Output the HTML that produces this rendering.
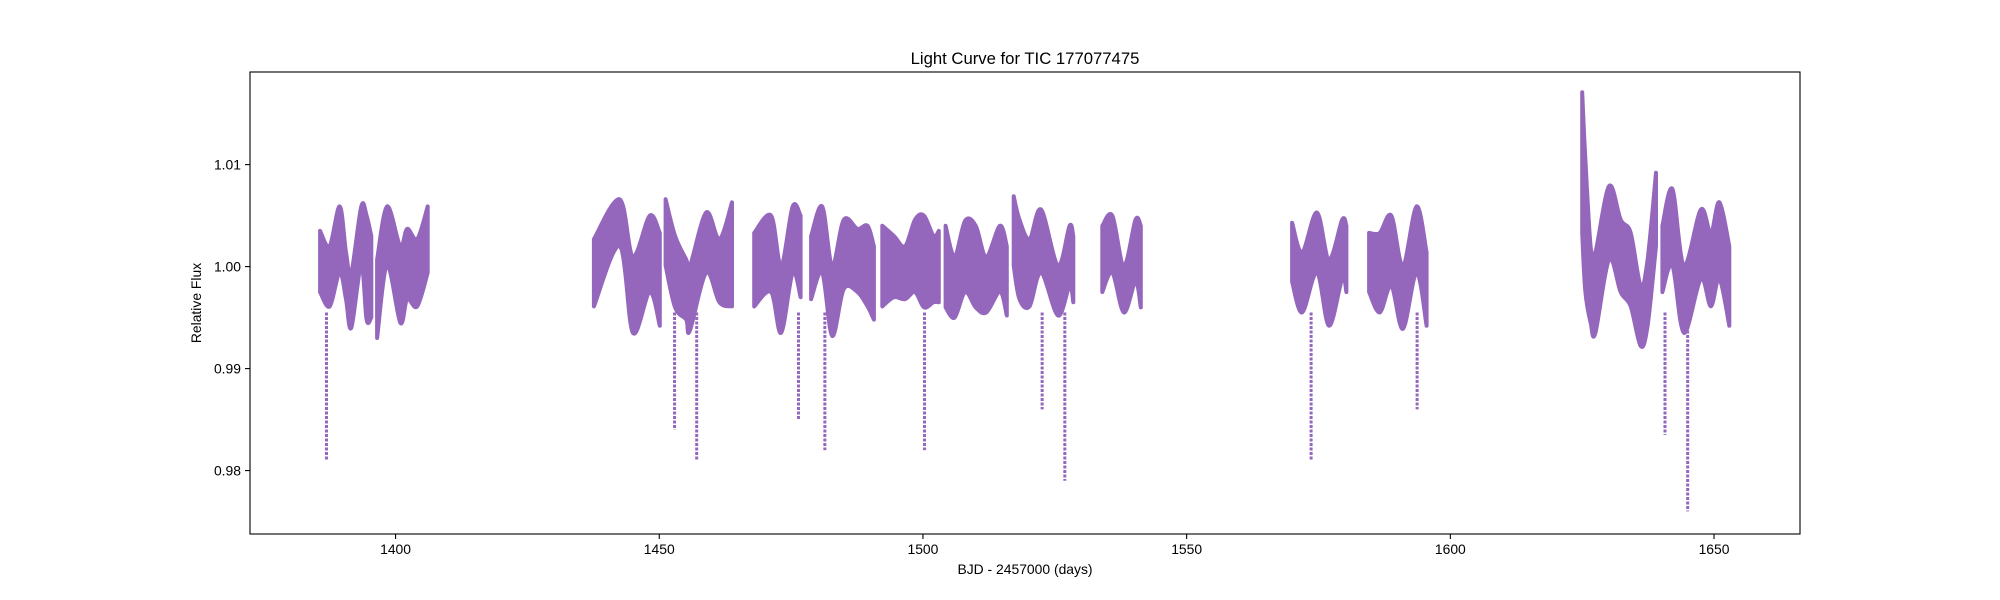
<!DOCTYPE html>
<html><head><meta charset="utf-8">
<style>
html,body{margin:0;padding:0;background:#fff;}
svg{display:block;font-family:"Liberation Sans","DejaVu Sans",sans-serif;}
</style></head>
<body>
<svg id="chart" width="2000" height="600" viewBox="0 0 2000 600" xmlns="http://www.w3.org/2000/svg">
<rect x="0" y="0" width="2000" height="600" fill="#fff"/>
<text x="1025" y="64" font-size="16.7" text-anchor="middle" fill="#000">Light Curve for TIC 177077475</text>
<g id="series"></g>
<g id="axes"></g>
<rect x="250" y="72" width="1550" height="462" fill="none" stroke="#000" stroke-width="1.1"/>
<text x="1025" y="574" font-size="13.9" text-anchor="middle" fill="#000">BJD - 2457000 (days)</text>
<text x="0" y="0" font-size="13.9" text-anchor="middle" fill="#000" transform="translate(201,303) rotate(-90)">Relative Flux</text>
</svg>
<script>
const segmentIds = [1,1,1,1,1,1,1,1, 2,2,2,2,2,2, 3,3,3,3,3, 4,4,4,4,4,4,4, 5,5,5,5,5, 6,6,6,6,6,6,6, 7,7,7,7,7,7,7, 8,8,8,8,8,8,8, 9,9,9,9,9,9,9, 10,10,10,10,10, 11,11,11,11,11,11, 12,12,12,12,12,12, 13,13,13,13,13,13,13,13,13,13, 14,14,14,14,14,14,14];
const times = [1385.7,1387.5,1389.4,1390.6,1391.6,1393.5,1394.5,1395.4, 1396.5,1398.4,1400.9,1402.2,1404.1,1406.1, 1437.6,1442.5,1445,1448.2,1450.1, 1451.2,1453,1455.1,1455.8,1458.9,1461.4,1463.8, 1468,1471.2,1473.1,1475.3,1476.8, 1478.8,1480.9,1482.8,1485,1487.6,1489.5,1490.7, 1492.3,1494.5,1496.6,1498.5,1500.2,1502,1503, 1504.3,1506,1508,1510,1512,1514.6,1515.9, 1517.2,1518.3,1520.2,1522.4,1525.6,1527.8,1528.5, 1534,1535.9,1538.1,1540.3,1541.3, 1570,1571.9,1574.7,1577,1579.5,1580.3, 1584.6,1586.6,1588.8,1591,1593.6,1595.5, 1625,1625.6,1626.6,1627.5,1630.1,1632.3,1634.2,1636.1,1637.4,1639, 1640.2,1642.1,1644.3,1647.5,1649.4,1651,1652.9];
const fluxHigh = [1.0035,1.0020,1.0059,1.0014,0.9994,1.0059,1.0050,1.0030, 1.0007,1.0059,1.0020,1.0037,1.0027,1.0059, 1.0027,1.0066,1.0010,1.0050,1.0033, 1.0066,1.0030,1.0007,1.0000,1.0053,1.0027,1.0063, 1.0033,1.0050,1.0001,1.0059,1.0050, 1.0030,1.0059,1.0001,1.0046,1.0037,1.0040,1.0020, 1.0040,1.0030,1.0020,1.0046,1.0050,1.0030,1.0035, 1.0040,1.0010,1.0045,1.0040,1.0010,1.0040,1.0020, 1.0069,1.0046,1.0027,1.0056,1.0001,1.0040,1.0030, 1.0040,1.0050,1.0001,1.0046,1.0040, 1.0043,1.0014,1.0053,1.0007,1.0046,1.0040, 1.0033,1.0033,1.0050,1.0001,1.0059,1.0014, 1.0171,1.0105,1.0020,1.0014,1.0079,1.0046,1.0033,0.9981,1.0007,1.0092, 1.0040,1.0076,1.0001,1.0056,1.0033,1.0063,1.0020];
const fluxLow = [0.9975,0.9961,0.9994,0.9968,0.9940,1.0001,0.9948,0.9950, 0.9930,1.0001,0.9945,0.9968,0.9961,0.9994, 0.9961,1.0020,0.9935,0.9975,0.9942, 1.0001,0.9960,0.9948,0.9937,0.9994,0.9965,0.9961, 0.9961,0.9975,0.9935,0.9994,0.9970, 0.9968,0.9994,0.9932,0.9978,0.9975,0.9961,0.9948, 0.9961,0.9970,0.9968,0.9975,0.9960,0.9965,0.9965, 0.9960,0.9950,0.9975,0.9960,0.9955,0.9975,0.9952, 1.0001,0.9968,0.9961,0.9994,0.9952,0.9981,0.9965, 0.9975,0.9994,0.9955,0.9985,0.9960, 0.9985,0.9955,0.9994,0.9942,0.9988,0.9975, 0.9975,0.9955,0.9981,0.9939,0.9994,0.9942, 1.0033,0.9975,0.9945,0.9935,1.0007,0.9975,0.9961,0.9922,0.9942,1.0020, 0.9975,1.0001,0.9935,0.9988,0.9961,0.9988,0.9942];
const dipTimes = [1386.9,1452.9,1457.1,1476.4,1481.4,1500.3,1522.6,1526.9,1573.6,1593.7,1640.7,1645.0];
const dipMins = [0.981,0.984,0.981,0.985,0.982,0.982,0.986,0.979,0.981,0.986,0.9835,0.976];
const xTicks = [1400,1450,1500,1550,1600,1650];
const yTicks = [0.98,0.99,1.00,1.01];
const yTickLabels = ["0.98","0.99","1.00","1.01"];

const X0=250,X1=1800,Y0=72,Y1=534;
const TMIN=1372.4,TMAX=1666.3,FMIN=0.97378,FMAX=1.01908;
function xs(t){return X0+(t-TMIN)/(TMAX-TMIN)*(X1-X0);}
function ys(f){return Y1-(f-FMIN)/(FMAX-FMIN)*(Y1-Y0);}
const NS="http://www.w3.org/2000/svg";
const series=document.getElementById('series');
const axes=document.getElementById('axes');
const COLOR="#9467bd";

function smooth(pts){
  // Catmull-Rom to cubic bezier, returns path commands after initial point
  let d="";
  for(let i=0;i<pts.length-1;i++){
    const p0=pts[Math.max(0,i-1)],p1=pts[i],p2=pts[i+1],p3=pts[Math.min(pts.length-1,i+2)];
    const c1=[p1[0]+(p2[0]-p0[0])/6,p1[1]+(p2[1]-p0[1])/6];
    const c2=[p2[0]-(p3[0]-p1[0])/6,p2[1]-(p3[1]-p1[1])/6];
    d+=" C"+c1[0].toFixed(1)+","+c1[1].toFixed(1)+" "+c2[0].toFixed(1)+","+c2[1].toFixed(1)+" "+p2[0].toFixed(1)+","+p2[1].toFixed(1);
  }
  return d;
}

const segs=[...new Set(segmentIds)];
segs.forEach(id=>{
  const idx=[];segmentIds.forEach((s,i)=>{if(s===id)idx.push(i);});
  const up=idx.map(i=>[xs(times[i]),ys(fluxHigh[i])]);
  const lo=idx.slice().reverse().map(i=>[xs(times[i]),ys(fluxLow[i])]);
  let d="M"+up[0][0].toFixed(1)+","+up[0][1].toFixed(1)+smooth(up);
  d+=" L"+lo[0][0].toFixed(1)+","+lo[0][1].toFixed(1)+smooth(lo)+" Z";
  const p=document.createElementNS(NS,'path');
  p.setAttribute('d',d);
  p.setAttribute('fill',COLOR);
  p.setAttribute('stroke',COLOR);
  p.setAttribute('stroke-width','4');
  p.setAttribute('stroke-linejoin','round');
  
  
  series.appendChild(p);
});
dipTimes.forEach((t,i)=>{
  const l=document.createElementNS(NS,'line');
  l.setAttribute('x1',xs(t));l.setAttribute('x2',xs(t));
  l.setAttribute('y1',ys(0.9955));l.setAttribute('y2',ys(dipMins[i]));
  l.setAttribute('stroke',COLOR);l.setAttribute('stroke-width','3');
  l.setAttribute('stroke-dasharray','3,1.5');
  
  
  series.appendChild(l);
});
xTicks.forEach(v=>{
  const x=xs(v);
  const l=document.createElementNS(NS,'line');
  l.setAttribute('x1',x);l.setAttribute('x2',x);l.setAttribute('y1',Y1);l.setAttribute('y2',Y1+5);
  l.setAttribute('stroke','#000');l.setAttribute('stroke-width','1.1');
  
  
  axes.appendChild(l);
  const tx=document.createElementNS(NS,'text');
  tx.setAttribute('x',x);tx.setAttribute('y',Y1+20);
  tx.setAttribute('font-size','13.9');tx.setAttribute('text-anchor','middle');
  tx.textContent=String(v);
  
  
  axes.appendChild(tx);
});
yTicks.forEach((v,i)=>{
  const y=ys(v);
  const l=document.createElementNS(NS,'line');
  l.setAttribute('x1',X0-5);l.setAttribute('x2',X0);l.setAttribute('y1',y);l.setAttribute('y2',y);
  l.setAttribute('stroke','#000');l.setAttribute('stroke-width','1.1');
  
  
  axes.appendChild(l);
  const tx=document.createElementNS(NS,'text');
  tx.setAttribute('x',X0-9);tx.setAttribute('y',y+5);
  tx.setAttribute('font-size','13.9');tx.setAttribute('text-anchor','end');
  tx.textContent=yTickLabels[i];
  
  
  axes.appendChild(tx);
});
</script>
</body></html>
